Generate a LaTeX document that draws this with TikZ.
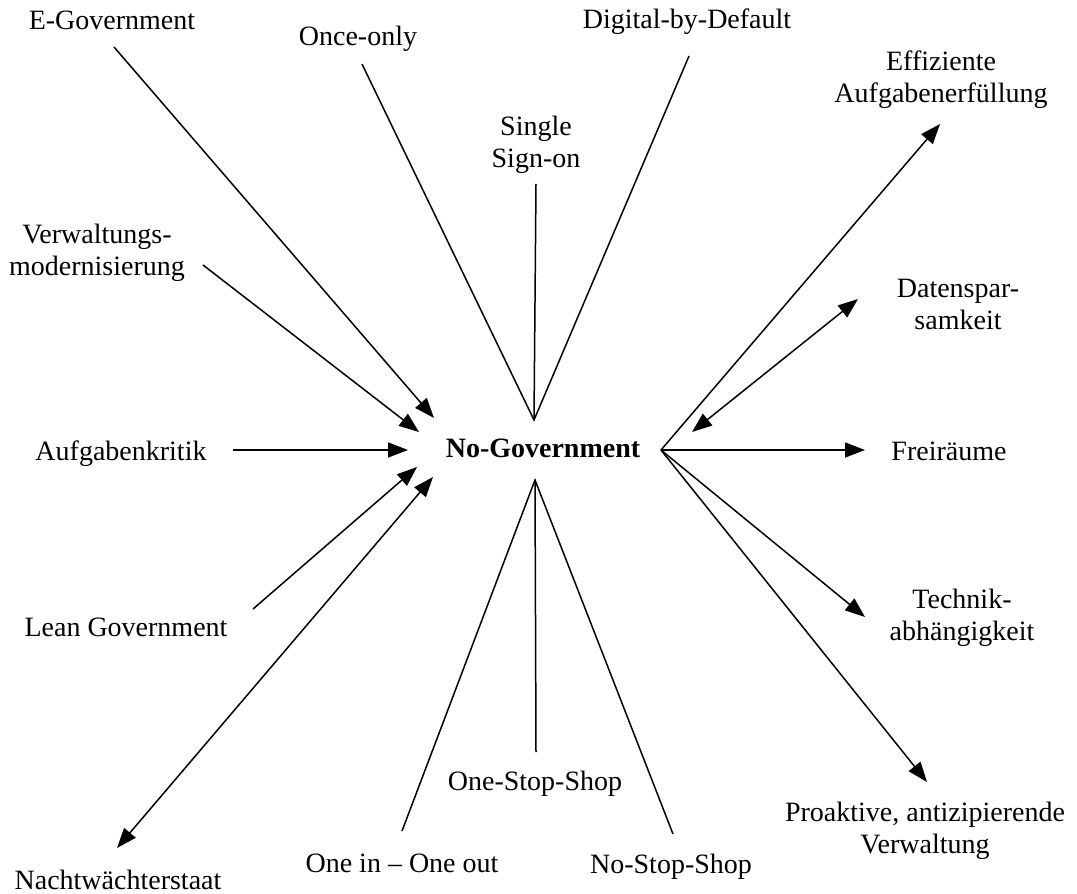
\documentclass[tikz,border=0pt]{standalone}
\usepackage{fontspec}
\setmainfont{Liberation Serif}
\usetikzlibrary{arrows.meta}

\newlength{\du}
\setlength{\du}{0.5pt}

\tikzset{
  lbl/.style={inner sep=0pt, font=\fontsize{14}{16}\selectfont, align=center},
  lblone/.style={lbl, anchor=base},
  lbltwo/.style={lbl, anchor=north},
  hubtext/.style={lbl, font=\fontsize{14}{16}\selectfont\bfseries, anchor=base},
  conn/.style={line width=0.75pt},
  arr/.style={conn, -{Triangle[length=10pt,width=7.5pt]}},
  darr/.style={conn, {Triangle[length=10pt,width=7.5pt]}-{Triangle[length=10pt,width=7.5pt]}}
}

\begin{document}
\begin{tikzpicture}[x=\du, y=-\du]
\useasboundingbox (0,0) rectangle (1077,894);

% labels
\node[lblone] (egov) at (112,30) {E-Government};
\node[lblone] (once) at (358,46) {Once-only};
\node[lbltwo] (sso) at (536,116) {Single\\Sign-on};
\node[lblone] (dbd) at (687,28) {Digital-by-Default};
\node[lbltwo] (effi) at (941,50) {Effiziente\\Aufgabenerfüllung};
\node[lbltwo] (verw) at (97,224) {Verwaltungs-\\modernisierung};
\node[lbltwo] (daten) at (958,279) {Datenspar-\\samkeit};
\node[lblone] (krit) at (121,460) {Aufgabenkritik};
\node[hubtext] (nogov) at (543,457) {No-Government};
\node[lblone] (frei) at (949,460) {Freiräume};
\node[lbltwo] (tech) at (962,589) {Technik-\\abhängigkeit};
\node[lblone] (lean) at (126,636) {Lean Government};
\node[lblone] (oss) at (535,790) {One-Stop-Shop};
\node[lbltwo] (proak) at (925,802) {Proaktive, antizipierende\\Verwaltung};
\node[lblone] (oioo) at (402,872) {One in – One out};
\node[lblone] (nss) at (671,873) {No-Stop-Shop};
\node[lblone] (nacht) at (118,889) {Nachtwächterstaat};

% meeting points round No-Government
\coordinate (hubtop) at (534,420);
\coordinate (hubbot) at (535,480);
\coordinate (hubrgt) at (661,450);

% line ends next to the labels
\coordinate (egov-t) at (114,47);
\coordinate (egov-h) at (434,418);
\coordinate (once-t) at (362,64);
\coordinate (sso-t) at (536,184);
\coordinate (dbd-t) at (689,56);
\coordinate (verw-t) at (203,265);
\coordinate (verw-h) at (419,432);
\coordinate (krit-t) at (233,450);
\coordinate (krit-h) at (408,450);
\coordinate (lean-t) at (253,609);
\coordinate (lean-h) at (417,467);
\coordinate (nacht-t) at (117,848);
\coordinate (nacht-h) at (433,477);
\coordinate (oioo-t) at (402,831);
\coordinate (oss-t) at (536,752);
\coordinate (nss-t) at (673,834);
\coordinate (effi-h) at (940,124);
\coordinate (daten-a) at (692,432);
\coordinate (daten-h) at (858,299);
\coordinate (frei-h) at (865,450);
\coordinate (tech-h) at (865,617);
\coordinate (proak-h) at (927,782);

% left side
\draw[arr] (egov-t) -- (egov-h);
\draw[arr] (verw-t) -- (verw-h);
\draw[arr] (krit-t) -- (krit-h);
\draw[arr] (lean-t) -- (lean-h);
\draw[darr] (nacht-t) -- (nacht-h);

% top and bottom fans
\draw[conn] (once-t) -- (hubtop) -- (dbd-t);
\draw[conn] (sso-t) -- (hubtop);
\draw[conn] (oioo-t) -- (hubbot) -- (nss-t);
\draw[conn] (oss-t) -- (hubbot);

% right side
\draw[arr] (hubrgt) -- (effi-h);
\draw[darr] (daten-a) -- (daten-h);
\draw[arr] (hubrgt) -- (frei-h);
\draw[arr] (hubrgt) -- (tech-h);
\draw[arr] (hubrgt) -- (proak-h);
\end{tikzpicture}
\end{document}
